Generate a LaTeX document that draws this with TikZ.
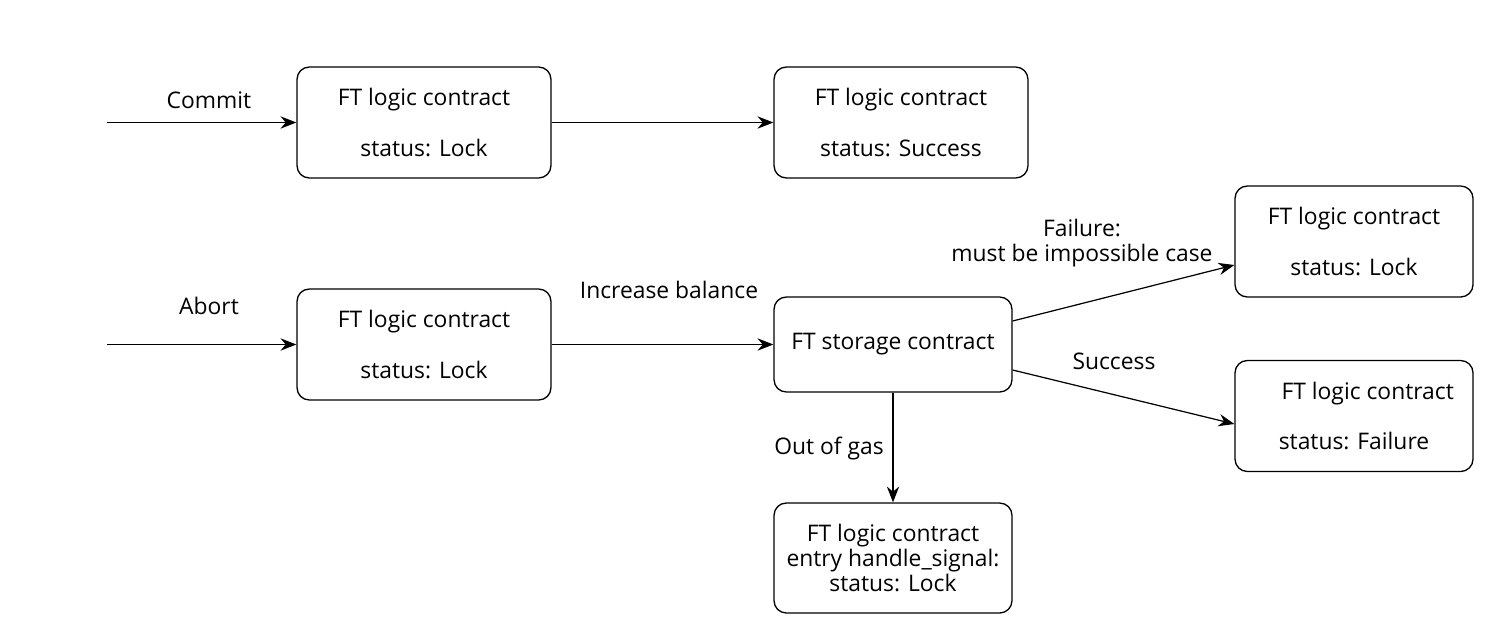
\documentclass[tikz,border=0pt]{standalone}
\usepackage{fontspec}
\setmainfont{Open Sans}
\usetikzlibrary{arrows.meta}
\tikzset{>={Stealth[length=9pt,width=7pt]}}
\tikzset{
	contract/.style={draw,rounded corners=7pt,line width=0.75pt,align=center,inner sep=2pt,minimum width=4.76cm,minimum height=2.22cm},
	wide/.style={minimum width=5.08cm},
	lbl/.style={align=center,inner sep=1pt},
	flow/.style={->,line width=0.7pt},
}

\begin{document}
\begin{tikzpicture}[x=0.02cm,y=-0.02cm,font=\fontsize{13pt}{14.5pt}\selectfont]
	\useasboundingbox (0,0) rectangle (1500,642);

	% commit
	\coordinate (c0) at (107,122.5);
	\node[contract,wide] (lock1) at (424,122.5) {FT logic contract\\[14.5pt]status: Lock};
	\node[contract,wide] (succ) at (901,122.5) {FT logic contract\\[14.5pt]status: Success};
	\draw[flow](c0)--(lock1);
	\draw[flow](lock1)--(succ);
	\node[lbl] (commit) at (209,100) {Commit};

	% abort
	\coordinate (a0) at (107,344.5);
	\node[contract,wide] (lock2) at (424,344.5) {FT logic contract\\[14.5pt]status: Lock};
	\node[contract,minimum height=1.9cm] (store) at (893,344.5) {FT storage contract};
	\node[contract] (lock3) at (1354,241.5) {FT logic contract\\[14.5pt]status: Lock};
	\node[contract] (fail) at (1354,416) {\hspace{1.2em}FT logic contract\\[14.5pt]status: Failure};
	\node[contract,minimum height=2.2cm] (handle) at (893,558) {FT logic contract\\entry handle\_signal:\\status: Lock};
	\draw[flow](store.east|-1012,321)--(lock3.west|-1235,265);
	\draw[flow](store.east|-1012,370)--(fail.west|-1235,424);
	\draw[flow](a0)--(lock2);
	\draw[flow](lock2)--(store);
	\draw[flow](store)--(handle);
	\node[lbl] (abort) at (209,306) {Abort};
	\node[lbl] (incr) at (669,290) {Increase balance};
	\node[lbl] (imposs) at (1082,243) {Failure:\\must be impossible case};
	\node[lbl] (ok) at (1114,361) {Success};
	\node[lbl] (gas) at (829,449) {Out of gas};

\end{tikzpicture}
\end{document}
